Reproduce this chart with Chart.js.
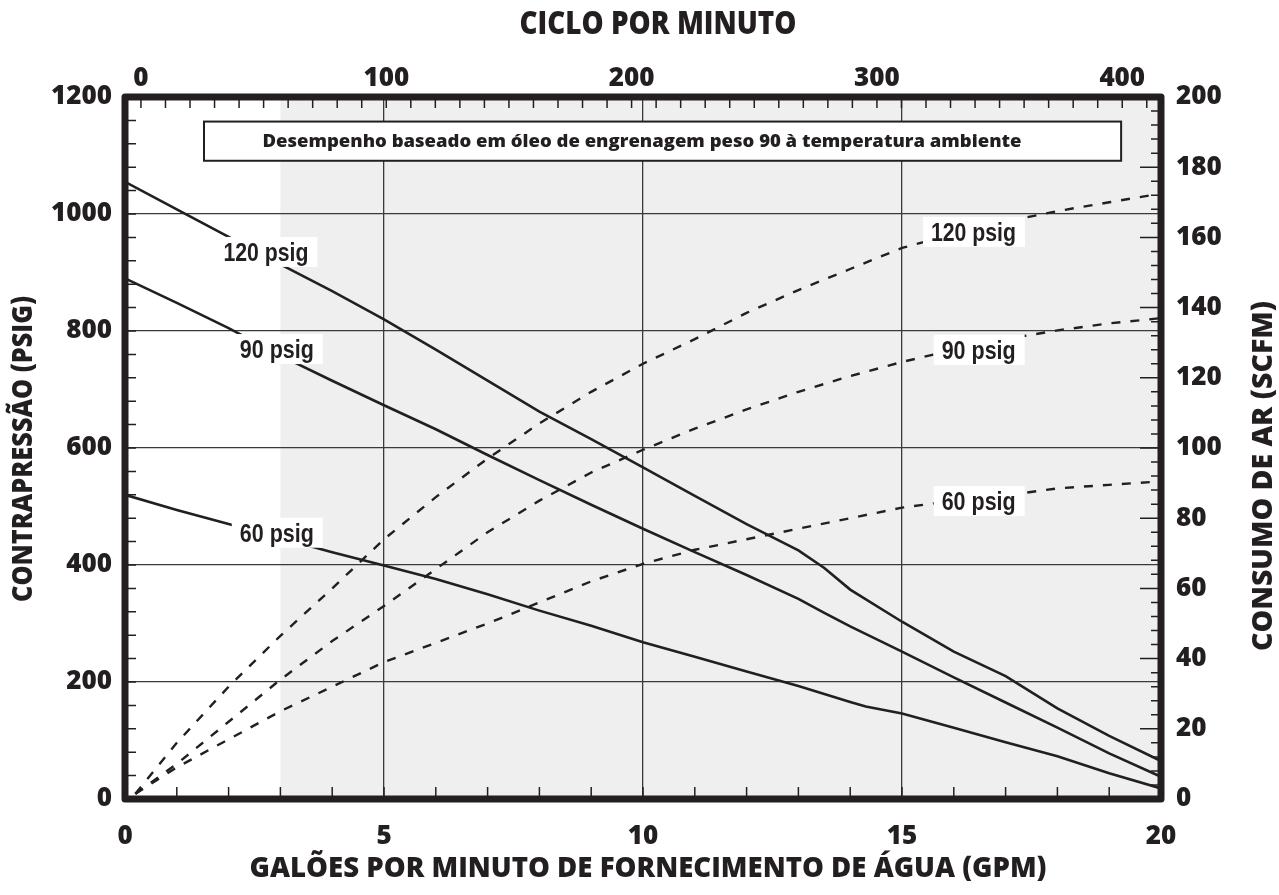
<!DOCTYPE html>
<html><head><meta charset="utf-8">
<script src="https://cdn.jsdelivr.net/npm/chart.js@4.4.0/dist/chart.umd.min.js"></script>
<style>html,body{margin:0;padding:0;background:#fff;overflow:hidden}canvas{display:block}</style>
</head><body>
<canvas id="c" width="1279" height="895"></canvas>
<script>
// ---------- data ----------
const seriesNames = ['120 psig', '90 psig', '60 psig'];

// back pressure (psig) vs water supply (GPM) – solid curves, left axis
const backGpm120 = [0,1,2,3,4,5,6,7,8,9,10,11,12,13,13.5,14,15,16,17,18,19,20];
const backPsi120 = [1055,1008,961,914,868,820,768,715,662,615,567,518,470,425,395,358,303,252,210,155,108,65];
const backGpm90  = [0,1,2,3,4,5,6,7,8,9,10,11,12,13,13.5,14,15,16,17,18,19,20];
const backPsi90  = [890,848,805,758,715,673,632,588,545,503,462,422,383,342,318,295,252,208,165,122,78,38];
const backGpm60  = [0,1,2,3,4,5,6,7,8,9,10,11,12,13,14,14.3,15,16,17,18,19,20];
const backPsi60  = [520,494,470,446,422,399,376,350,322,296,268,243,218,193,166,158,146,122,97,73,44,18];

// air consumption (SCFM) vs water supply (GPM) – dashed curves, right axis
const airGpm     = [0.2,1,2,3,4,5,6,7,8,9,10,11,12,13,14,15,16,17,18,19,20];
const airScfm120 = [1.5,16,32,46.5,60,74,86,97,107,116,124,131,138.5,145,151,157,161,164.5,167.5,170,172.5];
const airScfm90  = [1.5,10,22,34,45,55,65.5,76,85,93,99.5,105.5,111,116,120.5,124.5,128,131,133.5,135.5,137];
const airScfm60  = [1.5,9,17,25,32,39,44.5,50,56,62,67,71,74,77,80,83,85,86.5,88.5,89.5,90.5];

// tick labels
const bottomTickLabels = [0,5,10,15,20];
const leftTickLabels   = [0,200,400,600,800,1000,1200];
const rightTickLabels  = [0,20,40,60,80,100,120,140,160,180,200];
const topTickLabels    = [0,100,200,300,400];

// texts
const topTitle    = 'CICLO POR MINUTO';
const bottomTitle = 'GALÕES POR MINUTO DE FORNECIMENTO DE ÁGUA (GPM)';
const leftTitle   = 'CONTRAPRESSÃO (PSIG)';
const rightTitle  = 'CONSUMO DE AR (SCFM)';
const noteText    = 'Desempenho baseado em óleo de engrenagem peso 90 à temperatura ambiente';

// ---------- styling / layout ----------
const INK = '#231f20';
const TICKFONT = {family: "'Open Sans', 'DejaVu Sans', sans-serif", size: 26, weight: '800'};

function series(label, xs, ys, axis, dash) {
  return {
    label, data: xs.map((x, i) => ({x, y: ys[i]})),
    showLine: true, borderColor: INK, backgroundColor: INK,
    borderWidth: dash.length ? 2.4 : 2.6, borderDash: dash,
    pointRadius: 0, tension: 0, xAxisID: 'x', yAxisID: axis
  };
}

function capText(ctx, text, cx, capCy, size, family, width, angle, weight) {
  ctx.save();
  ctx.font = (weight || '800') + ' ' + size + 'px ' + family;
  const w = ctx.measureText(text).width;
  ctx.translate(cx, capCy);
  if (angle) ctx.rotate(angle);
  ctx.scale(width / w, 1);
  ctx.textAlign = 'center';
  ctx.textBaseline = 'alphabetic';
  ctx.fillStyle = INK;
  ctx.fillText(text, 0, size * 0.715 / 2);
  ctx.restore();
}

const decor = {
  id: 'decor',
  beforeDraw(chart) {
    const {ctx, chartArea: a, scales} = chart;
    ctx.save();
    ctx.fillStyle = '#fff';
    ctx.fillRect(0, 0, chart.width, chart.height);
    const xs = scales.x.getPixelForValue(3);
    ctx.fillStyle = '#efefef';
    ctx.fillRect(xs, a.top, a.right - xs, a.bottom - a.top);
    ctx.restore();
  },
  afterDatasetsDraw(chart) {
    const {ctx, chartArea: a, scales} = chart;
    const sx = scales.x, sy = scales.y, sy2 = scales.y2, sx2 = scales.x2;
    ctx.save();
    ctx.strokeStyle = INK;
    ctx.lineWidth = 1.5;
    ctx.beginPath();
    sx.ticks.forEach(t => { if (t.value > 0 && t.value < 20) { const p = sx.getPixelForValue(t.value); ctx.moveTo(p, a.bottom); ctx.lineTo(p, a.bottom - 12); } });
    sy.ticks.forEach(t => { if (t.value > 0 && t.value < 1200) { const p = sy.getPixelForValue(t.value); ctx.moveTo(a.left, p); ctx.lineTo(a.left + 11, p); } });
    sy2.ticks.forEach(t => { if (t.value > 0 && t.value < 200) { const p = sy2.getPixelForValue(t.value); const L = t.value % 20 === 0 ? 21 : 10; ctx.moveTo(a.right, p); ctx.lineTo(a.right - L, p); } });
    sx2.ticks.forEach(t => { if (t.value >= 0 && t.value <= 410) { const p = sx2.getPixelForValue(t.value); ctx.moveTo(p, a.top); ctx.lineTo(p, a.top + 11); } });
    ctx.stroke();

    // curve labels on white boxes
    const lab = (text, gx, val, scale) => {
      const cx = sx.getPixelForValue(gx), cy = scale.getPixelForValue(val);
      const fam = "'Liberation Sans', Arial, sans-serif";
      const tw = text.length === 8 ? 85 : 74;
      ctx.fillStyle = '#fff';
      ctx.fillRect(cx - tw / 2 - 8, cy - 14.5, tw + 17, 30);
      capText(ctx, text, cx, cy, 26, fam, tw, 0, 'bold');
    };
    lab(seriesNames[0], 2.72, 936, sy);
    lab(seriesNames[1], 2.93, 770, sy);
    lab(seriesNames[2], 2.93, 456, sy);
    lab(seriesNames[0], 16.38, 161.7, sy2);
    lab(seriesNames[1], 16.48, 128.1, sy2);
    lab(seriesNames[2], 16.48, 85.0, sy2);

    // note box
    const bx1 = sx.getPixelForValue(1.525), bx2 = sx.getPixelForValue(19.23);
    const by1 = sy.getPixelForValue(1158), by2 = sy.getPixelForValue(1091);
    ctx.fillStyle = '#fff';
    ctx.fillRect(bx1, by1, bx2 - bx1, by2 - by1);
    ctx.lineWidth = 2;
    ctx.strokeStyle = INK;
    ctx.strokeRect(bx1, by1, bx2 - bx1, by2 - by1);
    capText(ctx, noteText, sx.getPixelForValue(9.98), (by1 + by2) / 2, 17, "'Open Sans', sans-serif", 759);

    // frame
    ctx.lineWidth = 7;
    ctx.lineJoin = 'round';
    ctx.strokeStyle = INK;
    ctx.strokeRect(a.left, a.top, a.right - a.left, a.bottom - a.top);
    ctx.restore();
  },
  afterDraw(chart) {
    const {ctx} = chart;
    const fam = "'Open Sans', sans-serif";
    capText(ctx, topTitle, 658, 23, 31, fam, 277);
    capText(ctx, bottomTitle, 648, 867, 29, fam, 797);
    capText(ctx, leftTitle, 22, 449, 29, fam, 306, -Math.PI / 2);
    capText(ctx, rightTitle, 1262, 476, 29, fam, 350, -Math.PI / 2);
  }
};

new Chart(document.getElementById('c'), {
  type: 'scatter',
  data: {
    datasets: [
      series(seriesNames[0], backGpm120, backPsi120, 'y', []),
      series(seriesNames[1], backGpm90, backPsi90, 'y', []),
      series(seriesNames[2], backGpm60, backPsi60, 'y', []),
      series(seriesNames[0], airGpm, airScfm120, 'y2', [9, 10]),
      series(seriesNames[1], airGpm, airScfm90, 'y2', [9, 10]),
      series(seriesNames[2], airGpm, airScfm60, 'y2', [9, 10])
    ]
  },
  options: {
    responsive: false, animation: false, devicePixelRatio: 1,
    layout: {padding: 0},
    plugins: {legend: {display: false}, tooltip: {enabled: false}, title: {display: false}},
    scales: {
      x: {
        type: 'linear', position: 'bottom', min: 0, max: 20,
        ticks: {stepSize: 1, autoSkip: false, maxRotation: 0, padding: 22, color: INK, font: TICKFONT,
          callback: v => bottomTickLabels.includes(v) ? String(v) : ''},
        grid: {drawTicks: false, lineWidth: 1.3,
          color: c => (c.tick && bottomTickLabels.includes(c.tick.value) && c.tick.value > 0 && c.tick.value < 20) ? '#3a3a3a' : 'rgba(0,0,0,0)'},
        border: {display: false},
        afterFit: s => { s.height = 96; }
      },
      x2: {
        type: 'linear', position: 'top', min: -6.5, max: 415.8,
        ticks: {stepSize: 10, includeBounds: false, autoSkip: false, maxRotation: 0, padding: 3, color: INK, font: TICKFONT,
          callback: v => topTickLabels.includes(v) ? String(v) : ''},
        grid: {display: false, drawTicks: false},
        border: {display: false},
        afterFit: s => { s.height = 97; }
      },
      y: {
        type: 'linear', position: 'left', min: 0, max: 1200,
        ticks: {stepSize: 40, autoSkip: false, padding: 13, color: INK, font: TICKFONT,
          callback: v => leftTickLabels.includes(v) ? String(v) : ''},
        grid: {drawTicks: false, lineWidth: 1.3,
          color: c => (c.tick && leftTickLabels.includes(c.tick.value) && c.tick.value > 0 && c.tick.value < 1200) ? '#3a3a3a' : 'rgba(0,0,0,0)'},
        border: {display: false},
        afterFit: s => { s.width = 125; }
      },
      y2: {
        type: 'linear', position: 'right', min: 0, max: 200,
        ticks: {stepSize: 4, autoSkip: false, padding: 15, color: INK, font: TICKFONT,
          callback: v => rightTickLabels.includes(v) ? String(v) : ''},
        grid: {display: false, drawTicks: false},
        border: {display: false},
        afterFit: s => { s.width = 118; }
      }
    }
  },
  plugins: [decor]
});
</script>
</body></html>
